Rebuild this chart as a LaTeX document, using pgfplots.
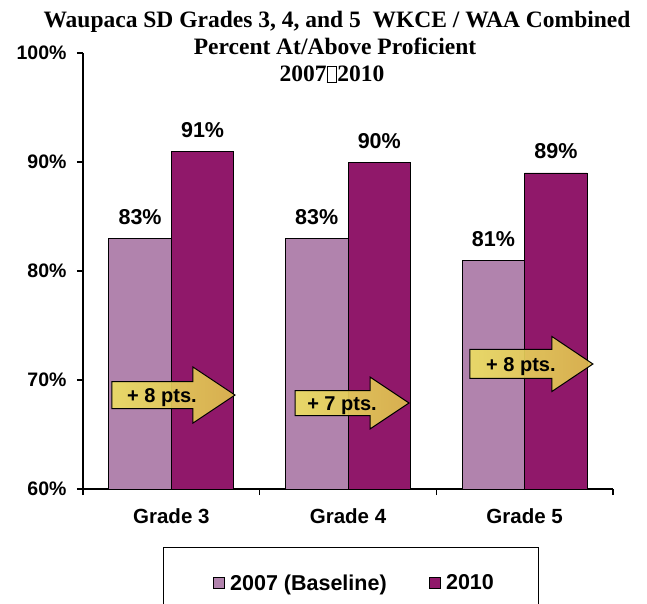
\documentclass[border=0pt]{standalone}
\usepackage{fontspec}
\setmainfont{Liberation Sans}
\newfontfamily\titlefont{Liberation Serif}
\usepackage{pgfplots}
\pgfplotsset{compat=1.18}
\definecolor{c07}{RGB}{177,131,173}
\definecolor{c10}{RGB}{144,24,106}
\definecolor{arL}{RGB}{236,222,100}
\definecolor{arR}{RGB}{222,188,78}
\pgfplotsset{sqleg/.style={legend image code/.code={\draw[##1,draw=black,line width=0.7pt] (0pt,-5.5pt) rectangle (11pt,5.5pt);\path[draw=none,fill=none] (15pt,0pt) circle (0pt);}}}
\newcommand\missbox{{\setlength\fboxsep{0pt}\setlength\fboxrule{0.8pt}\fbox{\rule{0pt}{0.66em}\hspace{0.38em}}}}
\begin{document}
\begin{tikzpicture}
\useasboundingbox (-83pt,-114pt) rectangle (564pt,489pt);
\begin{axis}[
  scale only axis, width=530pt, height=436pt,
  xmin=-0.5, xmax=2.5, ymin=60, ymax=100,
  ytick={60,70,80,90,100},
  yticklabel={\pgfmathprintnumber{\tick}\%},
  xtick={0,1,2}, xticklabels={Grade 3,Grade 4,Grade 5},
  minor xtick={-0.5,0.5,1.5,2.5},
  axis x line*=bottom, axis y line*=left,
  tick align=outside,
  major tick length=6pt, minor tick length=6pt,
  axis line style={line width=1.6pt},
  tick style={line width=1.4pt, black},
  major x tick style={draw=none},
  /pgf/number format/assume math mode=true,
  yticklabel style={font=\bfseries\fontsize{19.5}{22}\selectfont, xshift=-7pt},
  xticklabel style={font=\bfseries\fontsize{20.5}{24}\selectfont, yshift=-10pt},
  ybar=0pt, bar width=0.354,
  nodes near coords={\pgfmathprintnumber{\pgfplotspointmeta}\%},
  nodes near coords style={font=\bfseries\fontsize{21.5}{24}\selectfont, anchor=base, yshift=14pt},
  legend columns=2,
  legend style={draw=none, fill=none, at={(0.512,-0.2157)}, anchor=center,
    font=\bfseries\fontsize{21.5}{24}\selectfont,
    /tikz/every even column/.append style={column sep=40pt}},
]
\addplot[fill=c07, draw=black, line width=0.8pt, sqleg]
  coordinates {(0,83) (1,83) (2,81)};
\addplot[fill=c10, draw=black, line width=0.8pt, sqleg]
  coordinates {(0,91) (1,90) (2,89)};
\legend{2007 (Baseline),2010}
\coordinate (A1) at (axis cs:-0.336,68.62);
\coordinate (A2) at (axis cs:0.700,67.89);
\coordinate (A3) at (axis cs:1.690,71.47);
\end{axis}
% arrows
\begin{scope}[shift={(A1)}]
\path[draw=black, line width=1pt, left color=arL, right color=arR, fill opacity=0.92]
 (0pt,13.5pt) -- (81pt,13.5pt) -- (81pt,28pt) -- (123pt,0pt) -- (81pt,-28pt) -- (81pt,-13.5pt) -- (0pt,-13.5pt) -- cycle;
\node[anchor=base, font=\bfseries\fontsize{20}{24}\selectfont, inner sep=0pt] at (50pt,-7.5pt) {+ 8 pts.};
\end{scope}
\begin{scope}[shift={(A2)}]
\path[draw=black, line width=1pt, left color=arL, right color=arR, fill opacity=0.92]
 (0pt,12.5pt) -- (75pt,12.5pt) -- (75pt,26pt) -- (114pt,0pt) -- (75pt,-26pt) -- (75pt,-12.5pt) -- (0pt,-12.5pt) -- cycle;
\node[anchor=base, font=\bfseries\fontsize{20}{24}\selectfont, inner sep=0pt] at (47pt,-7.5pt) {+ 7 pts.};
\end{scope}
\begin{scope}[shift={(A3)}]
\path[draw=black, line width=1pt, left color=arL, right color=arR, fill opacity=0.92]
 (0pt,14.5pt) -- (82pt,14.5pt) -- (82pt,27.5pt) -- (123pt,0pt) -- (82pt,-27.5pt) -- (82pt,-14.5pt) -- (0pt,-14.5pt) -- cycle;
\node[anchor=base, font=\bfseries\fontsize{20}{24}\selectfont, inner sep=0pt] at (51pt,-8pt) {+ 8 pts.};
\end{scope}
% title
\begin{scope}[every node/.style={anchor=base, inner sep=0pt, font=\titlefont\bfseries\fontsize{23.5}{27}\selectfont}]
\node at (254pt,461pt) {Waupaca SD Grades 3, 4, and 5\ \ WKCE / WAA Combined};
\node at (252pt,434pt) {Percent At/Above Proficient};
\node at (249pt,407pt) {2007\missbox2010};
\end{scope}
% legend frame
\draw[line width=1pt] (80pt,-58pt) rectangle (455pt,-140pt);
\end{tikzpicture}
\end{document}
